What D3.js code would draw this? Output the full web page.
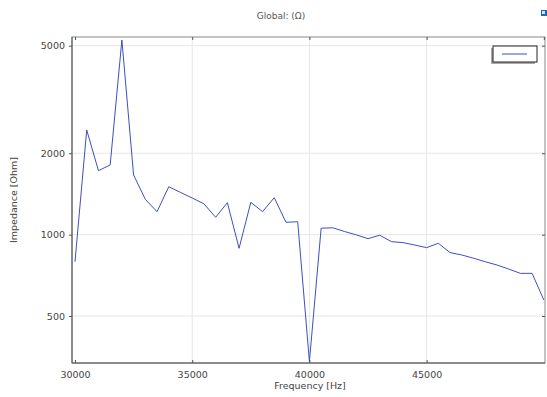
<!DOCTYPE html>
<html><head><meta charset="utf-8">
<script src="https://cdn.jsdelivr.net/npm/d3@7"></script>
<style>body{margin:0;background:#fff}svg{display:block}</style>
</head><body>
<script>
const frequency = [30000,30500,31000,31500,32000,32500,33000,33500,34000,34500,35000,35500,36000,36500,37000,37500,38000,38500,39000,39500,40000,40500,41000,41500,42000,42500,43000,43500,44000,44500,45000,45500,46000,46500,47000,47500,48000,48500,49000,49500,50000];
const impedance = [794,2438,1725,1810,5250,1662,1351,1216,1504,1433,1366,1300,1159,1313,890,1317,1216,1370,1111,1116,339,1056,1060,1027,998,966,995,942,934,915,895,929,858,841,818,794,772,746,719,719,573];
const xTicks = [30000,35000,40000,45000];
const yTicks = [500,1000,2000,5000];
const title = "Global: (Ω)";
const xLabel = "Frequency [Hz]";
const yLabel = "Impedance [Ohm]";

const W=547,H=397;
const L=72,R=545,T=37,B=363;
const svg=d3.select("body").append("svg").attr("width",W).attr("height",H);
const x=d3.scaleLinear().domain([29872,50050]).range([L,R]);
const y=d3.scaleLog().domain([335,5385]).range([B,T]);
const font="DejaVu Sans, sans-serif";

// grid
svg.append("g").selectAll("line.gx").data(xTicks.slice(1)).join("line")
  .attr("x1",d=>x(d)).attr("x2",d=>x(d)).attr("y1",T).attr("y2",B)
  .attr("stroke","#e6e6e6").attr("stroke-width",1);
svg.append("g").selectAll("line.gy").data(yTicks).join("line")
  .attr("x1",L).attr("x2",R).attr("y1",d=>y(d)).attr("y2",d=>y(d))
  .attr("stroke","#e6e6e6").attr("stroke-width",1);

// frame
svg.append("rect").attr("x",L).attr("y",T).attr("width",R-L).attr("height",B-T)
  .attr("fill","none").attr("stroke","#888").attr("stroke-width",1);
svg.append("line").attr("x1",L).attr("x2",R).attr("y1",B).attr("y2",B).attr("stroke","#555");
svg.append("line").attr("x1",L).attr("x2",L).attr("y1",T).attr("y2",B).attr("stroke","#555");

// axes
const xa=svg.append("g").attr("transform",`translate(0,${B})`)
  .call(d3.axisBottom(x).tickValues(xTicks).tickSize(-3).tickPadding(8).tickFormat(d3.format("d")));
xa.select(".domain").remove();
xa.selectAll("text").attr("font-family",font).attr("font-size",9.5).attr("fill","#444");
xa.selectAll("line").attr("stroke","#555");
const xt=svg.append("g").attr("transform",`translate(0,${T})`)
  .call(d3.axisTop(x).tickValues(xTicks.concat([50000])).tickSize(-3).tickFormat(""));
xt.select(".domain").remove(); xt.selectAll("line").attr("stroke","#555");

const ya=svg.append("g").attr("transform",`translate(${L},0)`)
  .call(d3.axisLeft(y).tickValues(yTicks).tickSize(3).tickPadding(4).tickFormat(d3.format("d")));
ya.select(".domain").remove();
ya.selectAll("text").attr("font-family",font).attr("font-size",9.5).attr("fill","#444");
ya.selectAll("line").attr("stroke","#555");
const yr=svg.append("g").attr("transform",`translate(${R},0)`)
  .call(d3.axisRight(y).tickValues(yTicks).tickSize(-3).tickFormat(""));
yr.select(".domain").remove(); yr.selectAll("line").attr("stroke","#555");

// line
svg.append("path").datum(frequency.map((f,i)=>[f,impedance[i]]))
  .attr("fill","none").attr("stroke","#3d50bd").attr("stroke-width",1)
  .attr("d",d3.line().x(d=>x(d[0])).y(d=>y(d[1])));

// legend
svg.append("rect").attr("x",491).attr("y",48).attr("width",44).attr("height",16).attr("fill","#aaa");
svg.append("rect").attr("x",493).attr("y",46).attr("width",44).attr("height",16)
  .attr("fill","#fff").attr("stroke","#222").attr("stroke-width",1);
svg.append("line").attr("x1",502).attr("x2",527).attr("y1",54).attr("y2",54)
  .attr("stroke","#3d50bd").attr("stroke-width",1);

// icon
svg.append("rect").attr("x",541).attr("y",10).attr("width",6).attr("height",6).attr("fill","#2a62b8");
svg.append("rect").attr("x",542).attr("y",11).attr("width",3).attr("height",3).attr("fill","#cfe3f7");

// texts
svg.append("text").attr("x",281).attr("y",19).attr("text-anchor","middle")
  .attr("font-family",font).attr("font-size",9).attr("fill","#555").text(title);
svg.append("text").attr("x",310).attr("y",389).attr("text-anchor","middle")
  .attr("font-family",font).attr("font-size",9.5).attr("fill","#444").text(xLabel);
svg.append("text").attr("transform","translate(17,200) rotate(-90)").attr("text-anchor","middle")
  .attr("font-family",font).attr("font-size",9.5).attr("fill","#444").text(yLabel);
</script>
</body></html>
